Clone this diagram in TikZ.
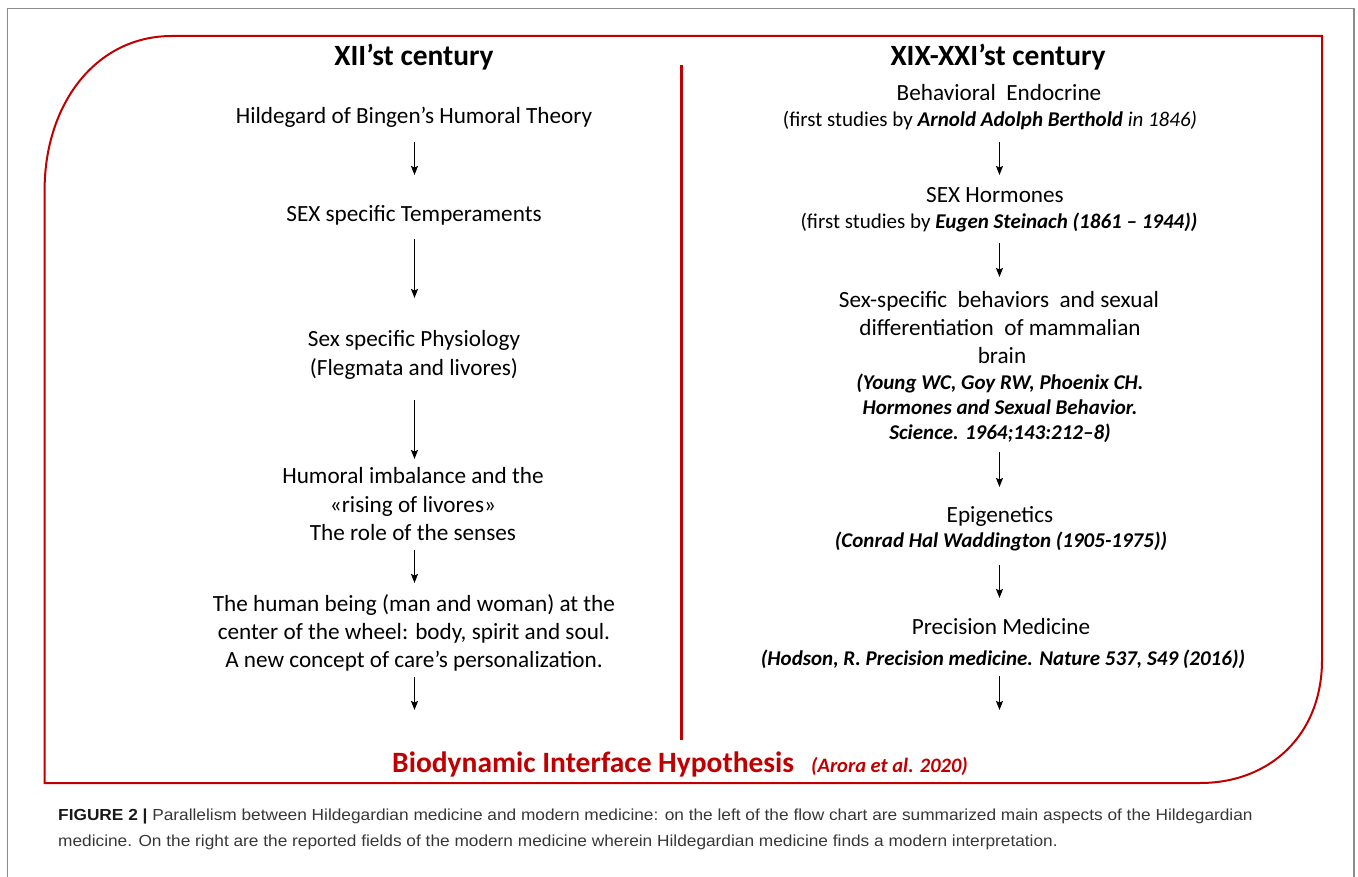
\documentclass[tikz,border=0pt]{standalone}
\usepackage{fontspec}
\setmainfont{Carlito}
\newfontfamily\capfont[FakeStretch=1.08]{Liberation Sans}
\usetikzlibrary{arrows.meta}
\definecolor{dred}{RGB}{192,0,0}
\definecolor{framegray}{RGB}{140,140,140}
\definecolor{capgray}{RGB}{55,55,55}
\definecolor{capdark}{RGB}{25,25,25}
\begin{document}
\begin{tikzpicture}[x=1pt,y=-1pt,
  body/.style={font=\fontsize{23.2}{27}\selectfont, anchor=base, inner sep=0pt},
  sub/.style={font=\fontsize{21}{25}\selectfont, anchor=base, inner sep=0pt},
  refr/.style={font=\fontsize{21}{25}\selectfont\bfseries\itshape, anchor=base, inner sep=0pt},
  ttl/.style={font=\fontsize{29.4}{33}\selectfont\bfseries, anchor=base, inner sep=0pt},
  arr/.style={line width=1.6pt, -{Stealth[length=9pt,width=7pt,inset=1.5pt]}},
  captext/.style={font=\capfont\fontsize{16}{19}\selectfont, anchor=base west, inner sep=0pt, text=capgray}]
\useasboundingbox (0,0) rectangle (1358,877);
% outer grey frame (open at bottom)
\draw[framegray, line width=1.2pt] (7.5,877) -- (7.5,8.3) -- (1354,8.3) -- (1354,877);
% red border with two rounded corners
\draw[dred, line width=2pt]
  (44.6,783) -- (44.6,190)
  .. controls (44.6,105) and (95,36) .. (172,36)
  -- (1322,36) -- (1322,660)
  .. controls (1322,735) and (1270,783) .. (1200,783)
  -- cycle;
% divider
\draw[dred, line width=2.6pt] (681.5,65) -- (681.5,740);

% ---------- left column ----------
\node[ttl] (L0) at (414,66) {XII’st century};
\node[body] (L1) at (414,124) {Hildegard of Bingen’s Humoral Theory};
\node[body] (L2) at (414,222) {SEX specific Temperaments};
\node[body] (L3a) at (414,347) {Sex specific Physiology};
\node[body] (L3b) at (414,376) {(Flegmata and livores)};
\node[body] (L4a) at (413,483) {Humoral imbalance and the};
\node[body] (L4b) at (413,512) {«rising of livores»};
\node[body] (L4c) at (413,540) {The role of the senses};
\node[body] (L5a) at (414,611) {The human being (man and woman) at the};
\node[body] (L5b) at (414,639) {center of the wheel: body, spirit and soul.};
\node[body] (L5c) at (414,667) {A new concept of care’s personalization.};

\coordinate (la1s) at (414.5,142); \coordinate (la1e) at (414.5,175);
\coordinate (la2s) at (414.5,239); \coordinate (la2e) at (414.5,298);
\coordinate (la3s) at (414.5,400); \coordinate (la3e) at (414.5,459);
\coordinate (la4s) at (414.5,550); \coordinate (la4e) at (414.5,583);
\coordinate (la5s) at (414.5,677); \coordinate (la5e) at (414.5,710);
\foreach \i in {1,...,5} \draw[arr] (la\i s) -- (la\i e);

% ---------- right column ----------
\node[ttl] (R0) at (998,66) {XIX-XXI’st century};
\node[body] (R1a) at (999,101) {Behavioral\ \ Endocrine};
\node[sub] (R1b) at (990,127) {(first studies by \textbf{\textit{Arnold Adolph Berthold}} \textit{in 1846)}};
\node[body] (R2a) at (995,203) {SEX Hormones};
\node[sub] (R2b) at (999,229) {(first studies by \textbf{\textit{Eugen Steinach (1861 – 1944))}}};
\node[body] (R3a) at (999,308) {Sex-specific\ \ behaviors\ \ and sexual};
\node[body] (R3b) at (1000,336) {differentiation\ \ of mammalian};
\node[body] (R3c) at (1002,363) {brain};
\node[refr] (R3d) at (1000,389) {(Young WC, Goy RW, Phoenix CH.};
\node[refr] (R3e) at (1000,414) {Hormones and Sexual Behavior.};
\node[refr] (R3f) at (1000,439) {Science. 1964;143:212–8)};
\node[body] (R4a) at (1000,522) {Epigenetics};
\node[refr] (R4b) at (1001,547) {(Conrad Hal Waddington (1905-1975))};
\node[body] (R5a) at (1001,634) {Precision Medicine};
\node[refr] (R5b) at (1003,665) {(Hodson, R. Precision medicine. Nature 537, S49 (2016))};

\coordinate (ra1s) at (999.5,142); \coordinate (ra1e) at (999.5,175);
\coordinate (ra2s) at (999.5,243); \coordinate (ra2e) at (999.5,277);
\coordinate (ra3s) at (999.5,452); \coordinate (ra3e) at (999.5,487);
\coordinate (ra4s) at (999.5,565); \coordinate (ra4e) at (999.5,598);
\coordinate (ra5s) at (999.5,676); \coordinate (ra5e) at (999.5,710);
\foreach \i in {1,...,5} \draw[arr] (ra\i s) -- (ra\i e);

% ---------- bottom title ----------
\node[font=\fontsize{29.5}{33}\selectfont\bfseries, text=dred, anchor=base west, inner sep=0pt] (B1) at (392,772) {Biodynamic Interface Hypothesis};
\node[font=\fontsize{20.5}{24}\selectfont\bfseries\itshape, text=dred, anchor=base west, inner sep=0pt] (B2) at (811,772) {(Arora et al. 2020)};

% ---------- caption ----------
\node[captext] (C1) at (58,820) {\textcolor{capdark}{\textbf{FIGURE 2 |}} Parallelism between Hildegardian medicine and modern medicine: on the left of the flow chart are summarized main aspects of the Hildegardian};
\node[captext] (C2) at (58,846) {medicine. On the right are the reported fields of the modern medicine wherein Hildegardian medicine finds a modern interpretation.};
\end{tikzpicture}
\end{document}
